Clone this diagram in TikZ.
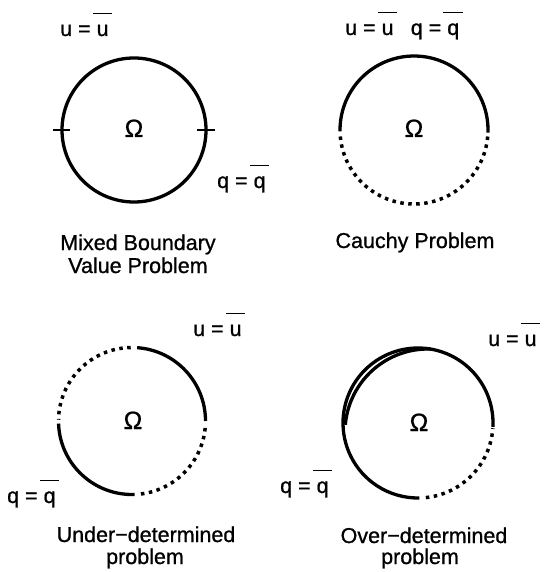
\documentclass[tikz,border=0pt]{standalone}
\usepackage{fontspec}
\setmainfont{Liberation Sans}[FakeBold=0.9]
\newcommand\ob[1]{\setbox0\hbox{#1}\rlap{\hspace{-0.18em}\rule[1.02em]{\dimexpr\wd0+0.36em\relax}{0.07em}}\box0}
\begin{document}
\begin{tikzpicture}[x=1pt,y=-1pt,
  lbl/.style={font=\fontsize{21.5}{24}\selectfont, inner sep=0pt},
  omg/.style={font=\fontsize{25}{28}\selectfont, inner sep=0pt, anchor=base},
  bnd/.style={line width=3.3pt},
  dotbnd/.style={line width=3.5pt, dash pattern=on 3.5pt off 4.5pt},
  tickln/.style={line width=1.2pt}]
\useasboundingbox (0,0) rectangle (547,572);
% centres
\coordinate (c1) at (134,130);
\coordinate (c2) at (414,130);
\coordinate (c3) at (132,421);
\coordinate (c4) at (418,423);
\coordinate (c4i) at (428,432);
% panel 1
\draw[bnd] (c1) circle[radius=72pt];
\draw[tickln] (c1) ++(-81pt,0pt) -- ++(17pt,0pt);
\draw[tickln] (c1) ++(63pt,0pt) -- ++(18pt,0pt);
\node[omg] (om1) at (134,137) {Ω};
\node[lbl, anchor=base west] (u1) at (60,36) {u = \ob{u}};
\node[lbl, anchor=base west] (q1) at (217,188) {q = \ob{q}};
\node[lbl, anchor=base] (cap1a) at (138,250) {Mixed Boundary};
\node[lbl, anchor=base] (cap1b) at (138,273) {Value Problem};
% panel 2
\draw[bnd] (c2) ++(-2:74pt) arc[start angle=-2, end angle=181, radius=74pt];
\draw[dotbnd] (c2) ++(185:74pt) arc[start angle=185, end angle=358, radius=74pt];
\node[omg] (om2) at (414,137) {Ω};
\node[lbl, anchor=base west] (uq2) at (345,35) {u = \ob{u}\hspace{0.8em}q = \ob{q}};
\node[lbl, anchor=base] (cap2) at (415,248) {Cauchy Problem};
% panel 3
\draw[bnd] (c3) ++(0:73.5pt) arc[start angle=0, end angle=86, radius=73.5pt];
\draw[dotbnd] (c3) ++(91:73.5pt) arc[start angle=91, end angle=179, radius=73.5pt];
\draw[bnd] (c3) ++(182:73.5pt) arc[start angle=182, end angle=272, radius=73.5pt];
\draw[dotbnd] (c3) ++(277:73.5pt) arc[start angle=277, end angle=357, radius=73.5pt];
\node[omg] (om3) at (133,429) {Ω};
\node[lbl, anchor=base west] (u3) at (193,336) {u = \ob{u}};
\node[lbl, anchor=base west] (q3) at (7,503) {q = \ob{q}};
\node[lbl, anchor=base] (cap3a) at (146,542) {Under−determined};
\node[lbl, anchor=base] (cap3b) at (145,564) {problem};
% panel 4
\draw[bnd] (c4) ++(-3:75pt) arc[start angle=-3, end angle=271, radius=75pt];
\draw[dotbnd] (c4) ++(276:75pt) arc[start angle=276, end angle=356, radius=75pt];
\draw[bnd] (c4i) ++(88:83pt) arc[start angle=88, end angle=175, radius=83pt];
\node[omg] (om4) at (419,431) {Ω};
\node[lbl, anchor=base west] (u4) at (488,346) {u = \ob{u}};
\node[lbl, anchor=base west] (q4) at (280,493) {q = \ob{q}};
\node[lbl, anchor=base] (cap4a) at (424,543) {Over−determined};
\node[lbl, anchor=base] (cap4b) at (420,564) {problem};
\end{tikzpicture}
\end{document}
